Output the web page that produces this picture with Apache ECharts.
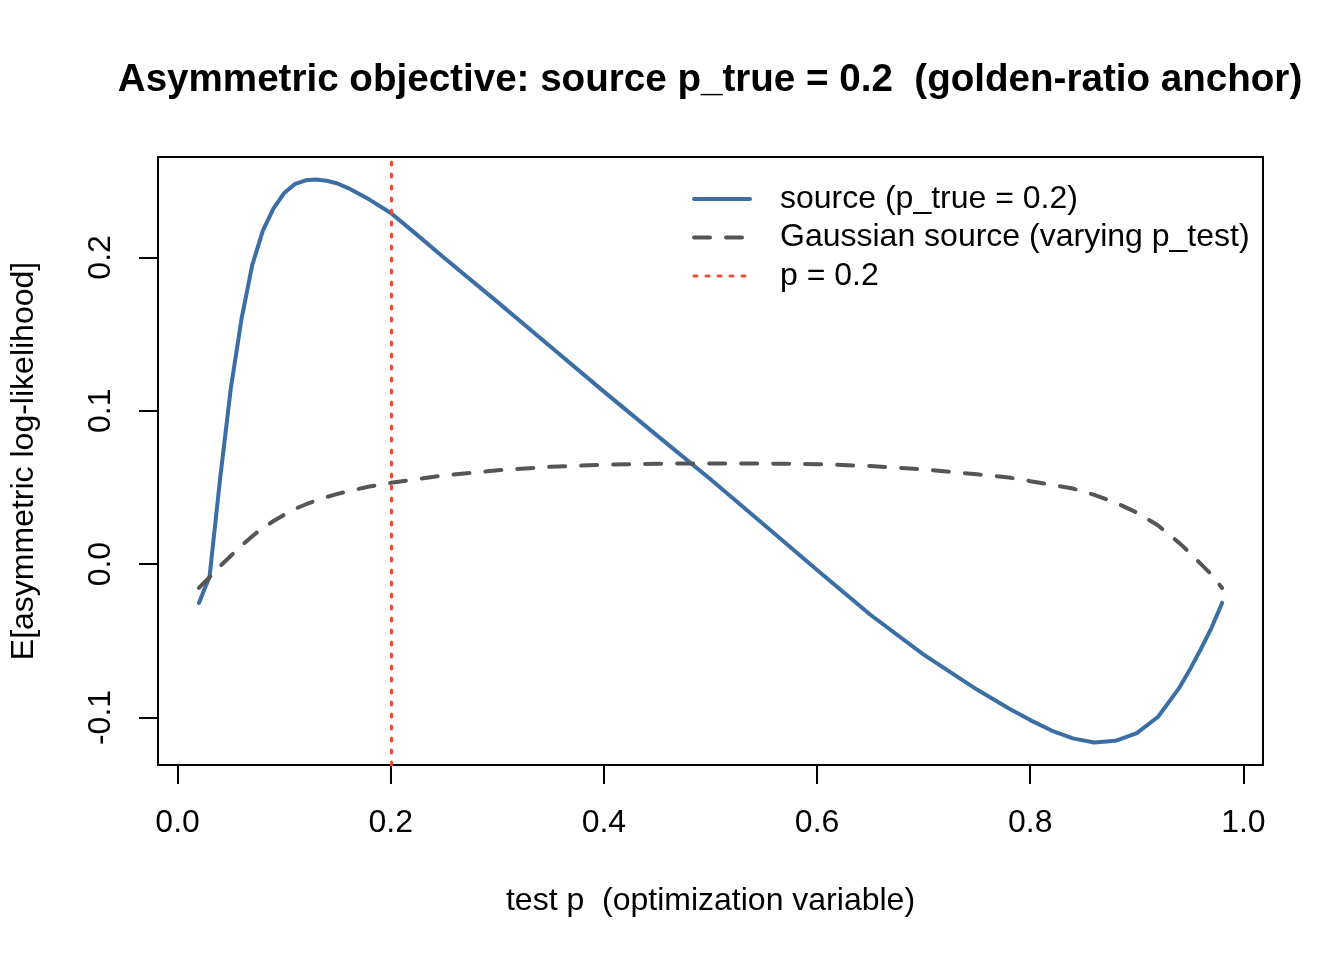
<!DOCTYPE html>
<html>
<head>
<meta charset="utf-8">
<script src="https://cdn.jsdelivr.net/npm/echarts@6/dist/echarts.min.js"></script>
<style>
  html, body { margin: 0; padding: 0; background: #fff; }
  #chart { width: 1344px; height: 960px; }
</style>
</head>
<body>
<div id="chart"></div>
<script>
// ---- data ----
const pTest = [0.02,0.03,0.04,0.05,0.06,0.07,0.08,0.09,0.10,0.11,0.12,0.13,0.14,0.15,0.16,0.18,0.20,0.22,0.25,0.30,0.35,0.40,0.45,0.50,0.55,0.60,0.65,0.70,0.75,0.78,0.80,0.82,0.84,0.86,0.88,0.90,0.92,0.94,0.95,0.96,0.97,0.98];
const sourceVals = [-0.0253,-0.0080,0.0565,0.1150,0.1600,0.1950,0.2175,0.2320,0.2420,0.2478,0.2503,0.2508,0.2500,0.2482,0.2452,0.2377,0.2290,0.2175,0.1998,0.1710,0.1418,0.1125,0.0838,0.0553,0.0258,-0.0038,-0.0330,-0.0590,-0.0818,-0.0942,-0.1017,-0.1085,-0.1136,-0.1163,-0.1152,-0.1102,-0.0995,-0.0805,-0.0685,-0.0555,-0.0417,-0.0253];
const gaussVals = [-0.0155,-0.0085,-0.0012,0.0055,0.0120,0.0182,0.0236,0.0281,0.0322,0.0360,0.0389,0.0415,0.0438,0.0458,0.0476,0.0506,0.0530,0.0550,0.0578,0.0612,0.0635,0.0648,0.0655,0.0657,0.0656,0.0652,0.0640,0.0618,0.0586,0.0565,0.0541,0.0518,0.0493,0.0452,0.0401,0.0336,0.0252,0.0137,0.0072,0.0002,-0.0068,-0.0155];
const vline = 0.2;
const xTicks = [0, 0.2, 0.4, 0.6, 0.8, 1.0];
const yTicks = [-0.1, 0, 0.1, 0.2];
const seriesNames = ['source (p_true = 0.2)', 'Gaussian source (varying p_test)', 'p = 0.2'];
const titleText = 'Asymmetric objective: source p_true = 0.2  (golden-ratio anchor)';
const xLabel = 'test p  (optimization variable)';
const yLabel = 'E[asymmetric log-likelihood]';

const FONT = '"Liberation Sans", Arial, Helvetica, sans-serif';
const BLUE = '#3a6ea5', GREY = '#555555', RED = '#f4493a';
const blueLine = { color: BLUE, width: 4, type: 'solid', cap: 'round', join: 'round' };
const greyLine = { color: GREY, width: 4, type: [16, 16], cap: 'round', join: 'round' };
const redLine = { color: RED, width: 3, type: [3, 9], cap: 'round' };

const pairs = (xs, ys) => xs.map((x, i) => [x, ys[i]]);
// R-style 4% axis extension computed from the data extent
const padMin = v => v.min - 0.04 * (v.max - v.min);
const padMax = v => v.max + 0.04 * (v.max - v.min);

const chart = echarts.init(document.getElementById('chart'), null, { renderer: 'canvas' });
chart.setOption({
  animation: false,
  backgroundColor: '#ffffff',
  textStyle: { fontFamily: FONT },
  graphic: [{
    type: 'text', x: 710, y: 80,
    style: { text: titleText, textAlign: 'center', textVerticalAlign: 'middle',
             font: 'bold 38.6px ' + FONT, fill: '#000' }
  }],
  grid: { left: 158, right: 81, top: 157, bottom: 195, show: true,
          borderColor: '#000', borderWidth: 2, backgroundColor: 'transparent' },
  legend: {
    orient: 'vertical', left: 692, top: 183, padding: 0,
    itemWidth: 56, itemHeight: 14, itemGap: 6.5,
    textStyle: { fontSize: 32, color: '#000', fontFamily: FONT, padding: [0, 0, 0, 25] },
    itemStyle: { opacity: 0 },
    data: [
      { name: seriesNames[0], lineStyle: blueLine },
      { name: seriesNames[1], lineStyle: greyLine },
      { name: seriesNames[2], lineStyle: redLine }
    ]
  },
  xAxis: {
    type: 'value', min: padMin, max: padMax,
    name: xLabel, nameLocation: 'middle', nameGap: 120,
    nameTextStyle: { fontSize: 32, color: '#000', fontFamily: FONT },
    axisLine: { show: false, onZero: false },
    splitLine: { show: false },
    axisTick: { show: true, customValues: xTicks, length: 19, lineStyle: { color: '#000', width: 2 } },
    axisLabel: { customValues: xTicks, fontSize: 32, color: '#000', margin: 42, fontFamily: FONT,
                 formatter: v => v.toFixed(1) }
  },
  yAxis: {
    type: 'value', min: padMin, max: padMax,
    name: yLabel, nameLocation: 'middle', nameGap: 118,
    nameTextStyle: { fontSize: 32, color: '#000', fontFamily: FONT },
    axisLine: { show: false, onZero: false },
    splitLine: { show: false },
    axisTick: { show: true, customValues: yTicks, length: 19, lineStyle: { color: '#000', width: 2 } },
    axisLabel: { customValues: yTicks, fontSize: 32, color: '#000', margin: 41, rotate: 90, fontFamily: FONT,
                 formatter: v => v.toFixed(1) }
  },
  series: [
    { name: seriesNames[0], type: 'line', data: pairs(pTest, sourceVals), symbol: 'none', smooth: false, z: 3,
      lineStyle: blueLine, itemStyle: { color: BLUE } },
    { name: seriesNames[1], type: 'line', data: pairs(pTest, gaussVals), symbol: 'none', smooth: false, z: 4,
      lineStyle: greyLine, itemStyle: { color: GREY } },
    { name: seriesNames[2], type: 'line', data: [], symbol: 'none', z: 5,
      lineStyle: redLine, itemStyle: { color: RED },
      markLine: { silent: true, symbol: 'none', label: { show: false },
                  lineStyle: redLine, data: [{ xAxis: vline }] } }
  ]
});
</script>
</body>
</html>
